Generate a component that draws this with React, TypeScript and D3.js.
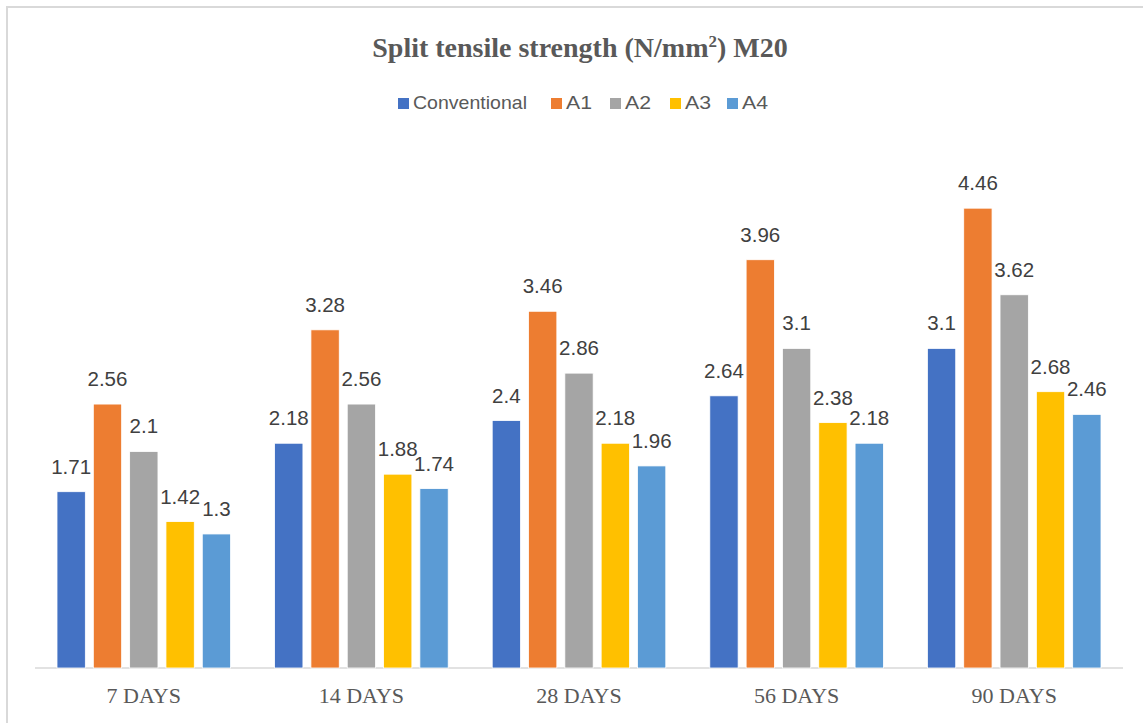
import React from "react";
import * as d3 from "d3";

const categories = ["7 DAYS", "14 DAYS", "28 DAYS", "56 DAYS", "90 DAYS"];
const seriesNames = ["Conventional", "A1", "A2", "A3", "A4"];
const conventional = [1.71, 2.18, 2.4, 2.64, 3.1];
const a1 = [2.56, 3.28, 3.46, 3.96, 4.46];
const a2 = [2.1, 2.56, 2.86, 3.1, 3.62];
const a3 = [1.42, 1.88, 2.18, 2.38, 2.68];
const a4 = [1.3, 1.74, 1.96, 2.18, 2.46];
const seriesValues = [conventional, a1, a2, a3, a4];
const colors = ["#4472C4", "#ED7D31", "#A5A5A5", "#FFC000", "#5B9BD5"];

const W = 1143;
const H = 723;
const sans = "'Liberation Sans', Arial, sans-serif";
const serif = "'Liberation Serif', 'Times New Roman', serif";

export default function App() {
  const x0 = d3.scaleBand<string>().domain(categories).range([35, 1123]).padding(0);
  const groupHalf = 86.8;
  const x1 = d3
    .scaleBand<string>()
    .domain(seriesNames)
    .range([-groupHalf, groupHalf])
    .paddingInner(0.22)
    .paddingOuter(0);
  const y = d3.scaleLinear().domain([0, 5]).range([668, 152.5]);

  const legendItems = [
    { name: "Conventional", x: 398 },
    { name: "A1", x: 551 },
    { name: "A2", x: 610 },
    { name: "A3", x: 670 },
    { name: "A4", x: 727 },
  ];

  return (
    <svg
      width={W}
      height={H}
      style={{ position: "absolute", left: 0, top: 0, background: "#fff" }}
    >
      <rect x={7} y={7} width={W + 10} height={H + 10} fill="#fff" stroke="#d9d9d9" strokeWidth={2} />
      <text
        x={580}
        y={57}
        textAnchor="middle"
        fontFamily={serif}
        fontWeight="bold"
        fontSize={28}
        fill="#595959"
      >
        Split tensile strength (N/mm
        <tspan dy={-10} fontSize={17}>2</tspan>
        <tspan dy={10}>) M20</tspan>
      </text>
      {legendItems.map((it, i) => (
        <g key={it.name}>
          <rect x={it.x} y={98} width={11} height={11} fill={colors[i]} />
          <text
            x={it.x + 15}
            y={108.5}
            fontFamily={sans}
            fontSize={19}
            fill="#595959"
            textLength={it.name === "Conventional" ? 114 : 26}
            lengthAdjust="spacingAndGlyphs"
          >
            {it.name}
          </text>
        </g>
      ))}
      <line x1={35} x2={1123} y1={668} y2={668} stroke="#d9d9d9" strokeWidth={1.5} />
      {categories.map((c, ci) => {
        const cx = (x0(c) as number) + x0.bandwidth() / 2;
        return (
          <g key={c}>
            {seriesNames.map((s, si) => {
              const v = seriesValues[si][ci];
              const bx = cx + (x1(s) as number);
              const bw = x1.bandwidth();
              return (
                <g key={s}>
                  <rect
                    x={bx}
                    y={y(v)}
                    width={bw}
                    height={y(0) - y(v)}
                    fill={colors[si]}
                    stroke="#fff"
                    strokeWidth={0.8}
                  />
                  <text
                    x={bx + bw / 2}
                    y={y(v) - 18}
                    textAnchor="middle"
                    fontFamily={sans}
                    fontSize={20.5}
                    fill="#404040"
                  >
                    {String(v)}
                  </text>
                </g>
              );
            })}
            <text
              x={cx}
              y={703}
              textAnchor="middle"
              fontFamily={serif}
              fontSize={22}
              fill="#595959"
            >
              {c}
            </text>
          </g>
        );
      })}
    </svg>
  );
}
